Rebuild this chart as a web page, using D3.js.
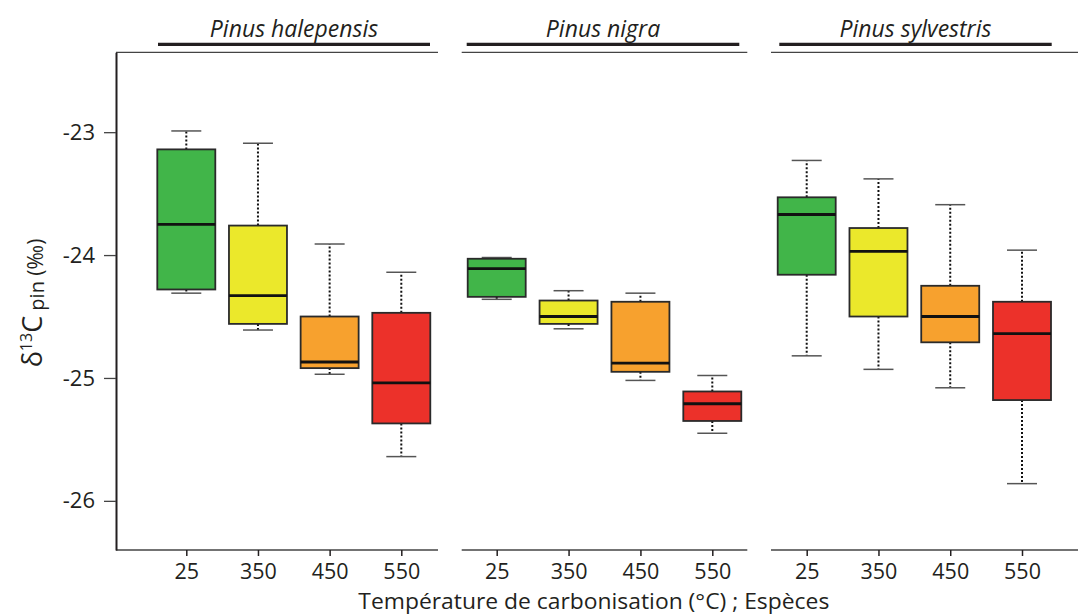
<!DOCTYPE html>
<html>
<head>
<meta charset="utf-8">
<script src="https://cdn.jsdelivr.net/npm/d3@7"></script>
<style>
  body { margin: 0; background: white; }
  svg { display: block; font-family: "Open Sans", "Noto Sans", sans-serif; }
</style>
</head>
<body>
<div id="chart"></div>
<script>

// categories
var temps = ["25", "350", "450", "550"];
var species = ["Pinus halepensis", "Pinus nigra", "Pinus sylvestris"];
var yTicks = [-23, -24, -25, -26];

// box stats, one row per species, one value per temperature
var whiskerLow  = [[-24.31, -24.61, -24.97, -25.64], [-24.36, -24.60, -25.02, -25.45], [-24.82, -24.93, -25.08, -25.86]];
var q1          = [[-24.28, -24.56, -24.92, -25.37], [-24.34, -24.56, -24.95, -25.35], [-24.16, -24.50, -24.71, -25.18]];
var median      = [[-23.75, -24.33, -24.87, -25.04], [-24.11, -24.50, -24.88, -25.21], [-23.67, -23.97, -24.50, -24.64]];
var q3          = [[-23.14, -23.76, -24.50, -24.47], [-24.03, -24.37, -24.38, -25.11], [-23.53, -23.78, -24.25, -24.38]];
var whiskerHigh = [[-22.99, -23.09, -23.91, -24.14], [-24.02, -24.29, -24.31, -24.98], [-23.23, -23.38, -23.59, -23.96]];

var palette = ["#41b549", "#ebe82b", "#f7a12e", "#ec312a"];

var width = 1078, height = 614;
var textCol = "#231f20";

// panel layout (axis line extent, tick extent, title rule extent)
var panels = [
  {axis: [116, 438],   ticks: [186.3, 401.3], rule: [158, 430],    leftAxis: true},
  {axis: [461.7, 747.3], ticks: [496.7, 712.3], rule: [466.7, 739.3], leftAxis: false},
  {axis: [771, 1080],  ticks: [806.7, 1022],  rule: [779.3, 1051.7], leftAxis: false}
];

var svg = d3.select("#chart").append("svg")
    .attr("width", width)
    .attr("height", height);

var y = d3.scaleLinear().domain([-26.4, -22.35]).range([550, 52.3]);

var boxW = 58, capW = 30;

panels.forEach(function(p, si) {
  var x = d3.scalePoint().domain(temps).range(p.ticks);
  var g = svg.append("g");

  // top thin line and title rule
  g.append("line")
      .attr("x1", p.axis[0]).attr("x2", p.axis[1])
      .attr("y1", y.range()[1]).attr("y2", y.range()[1])
      .attr("stroke", "#444").attr("stroke-width", 1.3);
  g.append("line")
      .attr("x1", p.rule[0]).attr("x2", p.rule[1])
      .attr("y1", 44.3).attr("y2", 44.3)
      .attr("stroke", textCol).attr("stroke-width", 3.2);
  g.append("text")
      .attr("x", (p.rule[0] + p.rule[1]) / 2)
      .attr("y", 36.5)
      .attr("text-anchor", "middle")
      .attr("font-style", "italic")
      .attr("font-size", 23)
      .attr("fill", textCol)
      .text(species[si]);

  // bottom axis
  g.append("line")
      .attr("x1", p.axis[0]).attr("x2", p.axis[1])
      .attr("y1", 550).attr("y2", 550)
      .attr("stroke", "#444").attr("stroke-width", 1.3);
  var xa = g.append("g")
      .attr("transform", "translate(0,550)")
      .call(d3.axisBottom(x).tickSize(6).tickSizeOuter(0).tickPadding(8));
  xa.select(".domain").remove();
  xa.selectAll("line").attr("stroke", textCol).attr("stroke-width", 1.5);
  xa.selectAll("text").attr("font-size", 21.5).attr("fill", textCol)
      .attr("font-family", "'Open Sans', sans-serif");

  if (p.leftAxis) {
    var ya = g.append("g")
        .attr("transform", "translate(" + p.axis[0] + ",0)")
        .call(d3.axisLeft(y).tickValues(yTicks).tickSize(12).tickSizeOuter(0).tickPadding(9)
              .tickFormat(function(d) { return String(d); }));
    ya.select(".domain").attr("stroke", textCol).attr("stroke-width", 2);
    ya.selectAll(".tick line").attr("stroke", "#444").attr("stroke-width", 1.3);
    ya.selectAll("text").attr("font-size", 22).attr("fill", textCol)
        .attr("font-family", "'Open Sans', sans-serif");
  }

  // boxes
  temps.forEach(function(t, ti) {
    var cx = x(t);
    var b = g.append("g");
    // whiskers
    b.append("line")
        .attr("x1", cx).attr("x2", cx)
        .attr("y1", y(q3[si][ti])).attr("y2", y(whiskerHigh[si][ti]))
        .attr("stroke", "#111").attr("stroke-width", 2).attr("stroke-dasharray", "2,2");
    b.append("line")
        .attr("x1", cx).attr("x2", cx)
        .attr("y1", y(q1[si][ti])).attr("y2", y(whiskerLow[si][ti]))
        .attr("stroke", "#111").attr("stroke-width", 2).attr("stroke-dasharray", "2,2");
    [whiskerHigh[si][ti], whiskerLow[si][ti]].forEach(function(v) {
      b.append("line")
          .attr("x1", cx - capW / 2).attr("x2", cx + capW / 2)
          .attr("y1", y(v)).attr("y2", y(v))
          .attr("stroke", "#555").attr("stroke-width", 1.5);
    });
    b.append("rect")
        .attr("x", cx - boxW / 2)
        .attr("y", y(q3[si][ti]))
        .attr("width", boxW)
        .attr("height", y(q1[si][ti]) - y(q3[si][ti]))
        .attr("fill", palette[ti])
        .attr("stroke", "#2a2a2a").attr("stroke-width", 1.8);
    b.append("line")
        .attr("x1", cx - boxW / 2).attr("x2", cx + boxW / 2)
        .attr("y1", y(median[si][ti])).attr("y2", y(median[si][ti]))
        .attr("stroke", "#111").attr("stroke-width", 2.8);
  });
});

// x axis title
svg.append("text")
    .attr("x", 358.3)
    .attr("y", 608.5)
    .attr("font-size", 21.5)
    .attr("fill", textCol)
    .attr("textLength", 471)
    .attr("lengthAdjust", "spacingAndGlyphs")
    .text("Température de carbonisation (°C) ; Espèces");

// y axis title: delta 13C pin (permil)
var yt = svg.append("text")
    .attr("transform", "translate(42,303) rotate(-90)")
    .attr("text-anchor", "middle")
    .attr("fill", textCol);
yt.append("tspan").attr("font-size", 27).text("δ");
yt.append("tspan").attr("font-size", 16).attr("dy", -10).text("13");
yt.append("tspan").attr("font-size", 27).attr("dy", 10).text("C");
yt.append("tspan").attr("font-size", 20).attr("dy", 2).text(" pin");
yt.append("tspan").attr("font-size", 21).attr("dy", -1).text(" (‰)");

</script>
</body>
</html>
